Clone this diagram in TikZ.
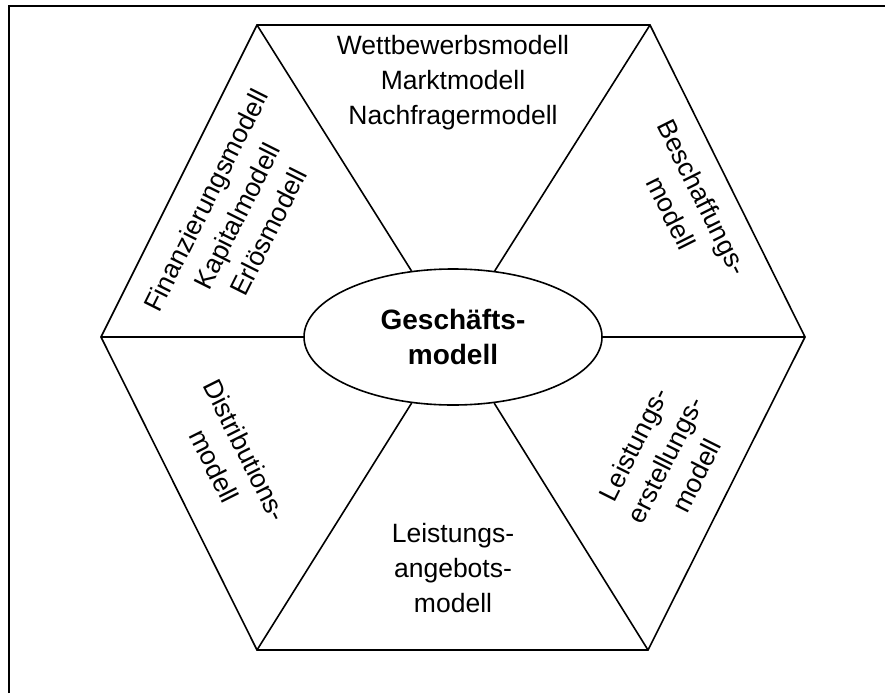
\documentclass[tikz,border=0pt]{standalone}
\usepackage{fontspec}
\setmainfont{Liberation Sans}
\usetikzlibrary{shapes.geometric}
\usetikzlibrary{positioning}

\begin{document}
\begin{tikzpicture}[x=1pt,y=-1pt,
		lbl/.style={align=center,font=\fontsize{26.5}{35}\selectfont},
		hex/.style={line width=1.6pt,line join=miter}]
		\useasboundingbox (0,0) rectangle (885,693);
		\draw[line width=2.4pt] (9,693) -- (9,6) -- (885,6);
		% hexagon corners
		\coordinate (h1) at (257,25);
		\coordinate (h2) at (650,25);
		\coordinate (h3) at (805,337);
		\coordinate (h4) at (648,650);
		\coordinate (h5) at (257,650);
		\coordinate (h6) at (101,337);
		\draw[hex] (h1) -- (h2) -- (h3) -- (h4) -- (h5) -- (h6) -- cycle;
		\node[draw,ellipse,line width=1.6pt,minimum width=298pt,minimum height=136pt,inner sep=0pt,align=center,font=\fontsize{28}{35}\selectfont\bfseries] at (453,337) (gm) {Geschäfts-\\modell};
		\foreach \h in {h1,h2,h3,h4,h5,h6}
			\draw[hex] (\h) -- (gm);
		% sector texts
		\node[lbl] at (453,83) (top) {Wettbewerbsmodell\\Marktmodell\\Nachfragermodell};
		\node[lbl,rotate=-63.4] at (687,205) (beschaffung) {Beschaffungs-\\modell};
		\node[lbl,rotate=63.4] at (665,460) (erstellung) {Leistungs-\\erstellungs-\\modell};
		\node[lbl] at (453,568) (angebot) {Leistungs-\\angebots-\\modell};
		\node[lbl,rotate=-63.4] at (230,458) (distribution) {Distributions-\\modell};
		\node[lbl,rotate=63.4] at (237,216) (finanz) {Finanzierungsmodell\\Kapitalmodell\\Erlösmodell};
	\end{tikzpicture}
\end{document}
